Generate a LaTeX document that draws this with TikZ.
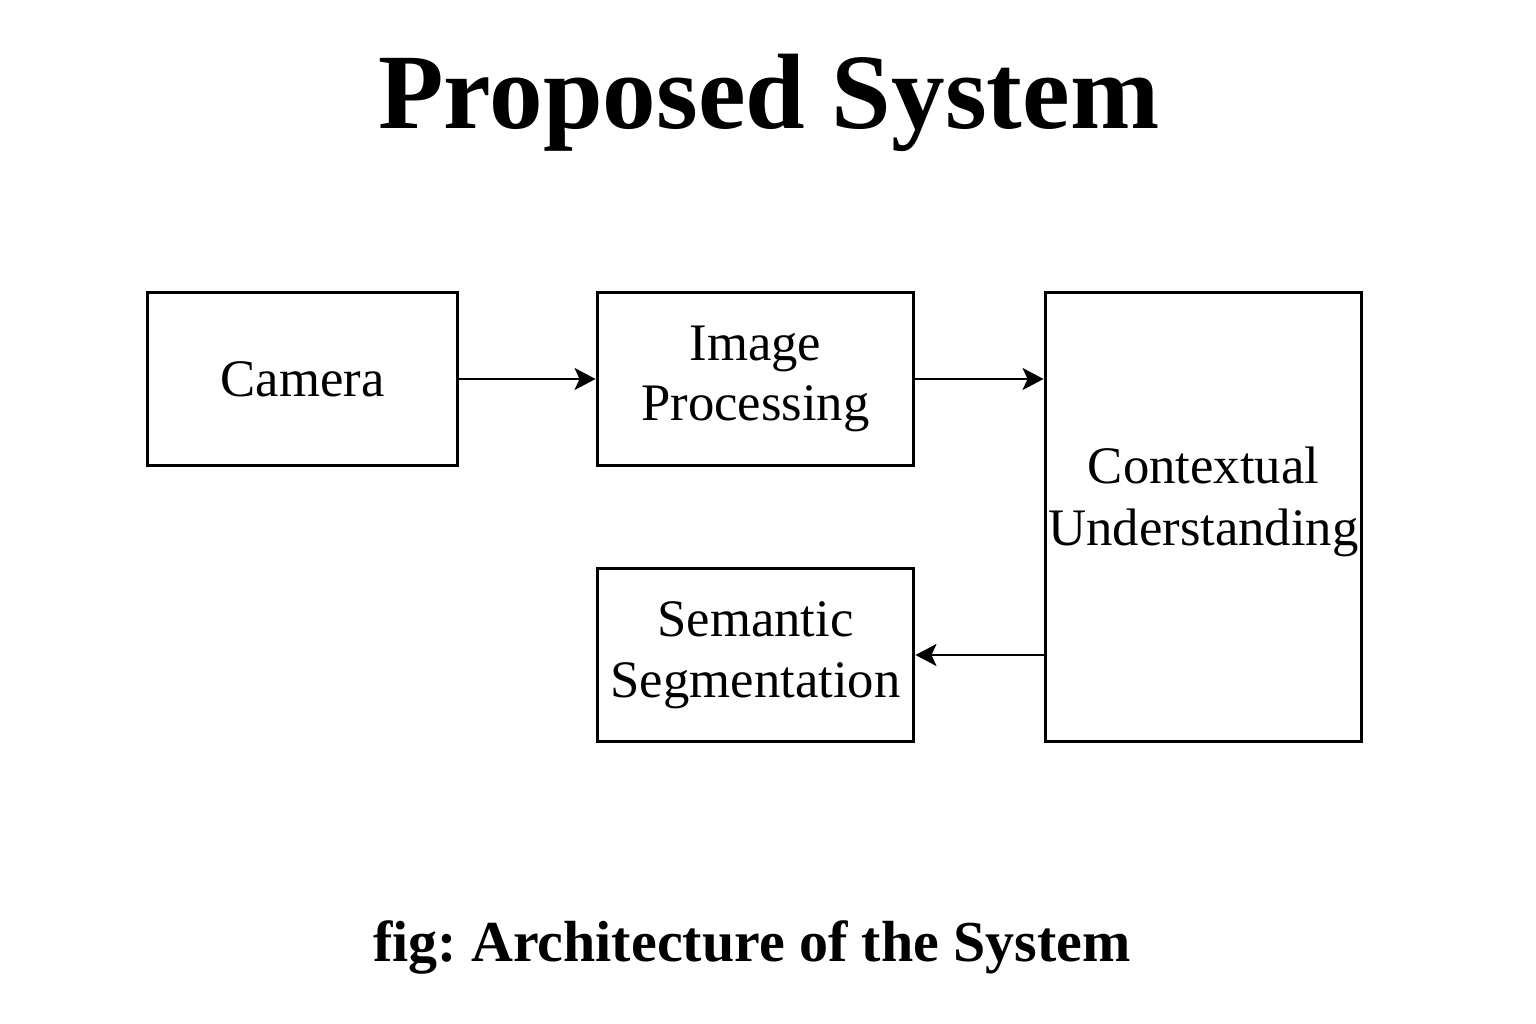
\documentclass[tikz,border=0pt]{standalone}
\usepackage{fontspec}
\setmainfont{Liberation Serif}
\usetikzlibrary{arrows.meta,calc}
\tikzset{
  block/.style={draw,rectangle,line width=1.7pt,minimum width=6.34cm,minimum height=3.48cm,
    align=center,inner sep=0pt,font=\fontsize{30}{34.5}\selectfont},
  blocktext/.style={align=center,inner sep=0pt,font=\fontsize{30}{35}\selectfont},
  flow/.style={line width=1.4pt,-{Stealth[length=0.42cm,width=0.44cm,inset=0.1cm]}},
}

\begin{document}
\begin{tikzpicture}[x=0.02cm,y=-0.02cm]
    \useasboundingbox (0,0) rectangle (1536,1024);
    % title
    \node (title) at (769,129) [anchor=base,font=\fontsize{61}{61}\selectfont\bfseries]{Proposed System};

    % blocks
    \node (camera) at (302.5,379) [block,minimum width=6.22cm]{Camera};
    \node (imgproc) at (755.5,379) [block]{Image\\Processing};
    \node (ctx) at (1203.5,517) [block,minimum height=9cm]{};
    \node (ctxtext) at ([yshift=0.3cm]ctx.center) [blocktext]{Contextual\\Understanding};
    \node (semseg) at (755.5,655) [block]{Semantic\\Segmentation};

    % connectors
    \draw[flow] (camera.east) -- (imgproc.west);
    \draw[flow] (imgproc.east) -- (imgproc.east -| ctx.west);
    \draw[flow] (semseg.east -| ctx.west) -- (semseg.east);

    % caption
    \node (caption) at (752,961) [anchor=base,font=\fontsize{33}{33}\selectfont\bfseries\frenchspacing]{fig: Architecture of the System};
  \end{tikzpicture}
\end{document}
